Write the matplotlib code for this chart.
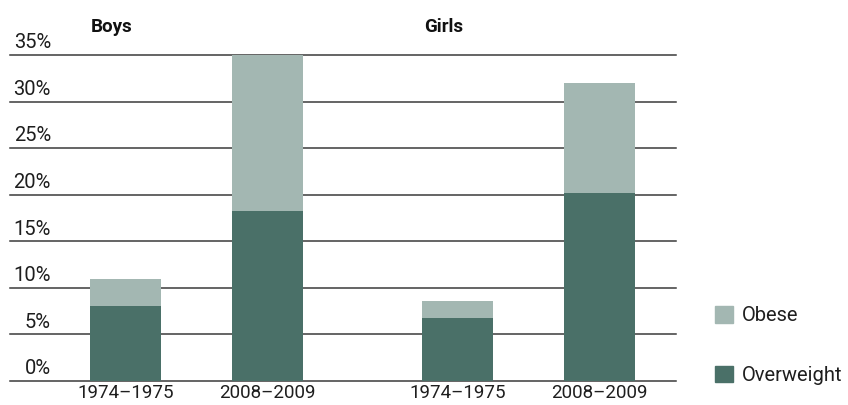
import matplotlib.pyplot as plt
from matplotlib.patches import Patch
from matplotlib.transforms import blended_transform_factory, offset_copy

# data (percent)
periods = ['1974–1975', '2008–2009']
groups = ['Boys', 'Girls']
overweight = [8.0, 18.3, 6.8, 20.2]
obese = [2.9, 16.7, 1.8, 11.8]   # stacked on top of overweight
yticks = [0, 5, 10, 15, 20, 25, 30, 35]

col_over = '#4a7068'
col_obese = '#a3b7b2'
txt = '#1e1e1e'
plt.rcParams['font.family'] = ['Roboto', 'DejaVu Sans']

x = [0, 1, 2.338, 3.338]
labels = periods * 2

fig = plt.figure(figsize=(8.48, 4.05), dpi=100)
ax = fig.add_axes([10/848, 24/405, 666/848, 326/405])
ax.set_xlim(-0.813, 3.877)
ax.set_ylim(0, 35)

for v in yticks:
    ax.axhline(v, color='#3a3a3a', lw=1.1, zorder=1, clip_on=False)

ax.bar(x, overweight, width=0.5, color=col_over, zorder=2)
ax.bar(x, obese, width=0.5, bottom=overweight, color=col_obese, zorder=2)

# y labels sit above the gridlines, right aligned
tr = offset_copy(blended_transform_factory(fig.transFigure, ax.transData),
                 fig=fig, y=2, units='points')
for v in yticks:
    fig.text(51/848, v, f'{v}%', transform=tr, ha='right', va='bottom',
             fontsize=14.5, color=txt)

ax.set_xticks(x)
ax.set_xticklabels(labels, fontsize=13.5, color=txt)
ax.tick_params(axis='x', length=0, pad=2.5)
ax.set_yticks([])
for s in ax.spines.values():
    s.set_visible(False)

# group titles
for gx, name in zip([x[0], x[2]], groups):
    ax.text(gx - 0.1, 1.085, name, transform=blended_transform_factory(ax.transData, ax.transAxes),
            ha='center', va='center', fontsize=13.5, fontweight='bold', color='#111111')

handles = [Patch(color=col_obese, label='Obese'), Patch(color=col_over, label='Overweight')]
fig.legend(handles=handles, loc='lower left', bbox_to_anchor=(697/848, 2/405),
           frameon=False, fontsize=14.5, handlelength=0.9, handleheight=0.9,
           handletextpad=0.45, labelspacing=2.0, labelcolor=txt)

fig.savefig('out.png', dpi=100)
